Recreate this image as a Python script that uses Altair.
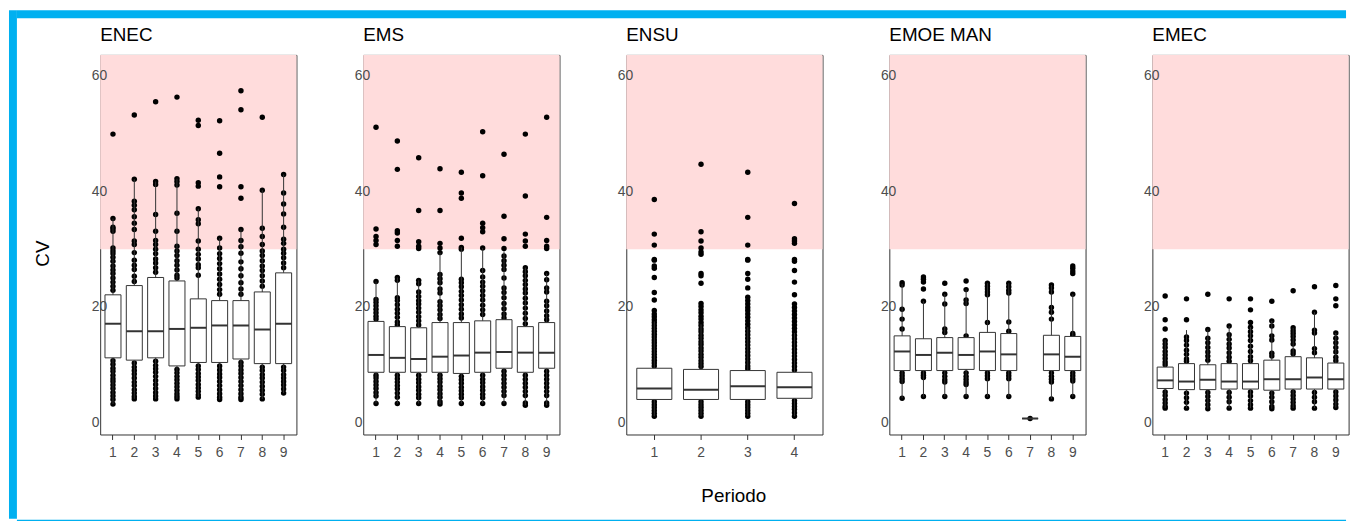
import altair as alt
import pandas as pd

FONT = "Liberation Sans"
BLUE = "#00B0F0"
ZONE_COLOR = "#FFDCDC"
BORDER = "#333333"
LABEL_GRAY = "#4D4D4D"

Y_MIN = -2.06
Y_MAX = 63.6
ZONE_LOW = 30
Y_TICKS = [0, 20, 40, 60]

PERIODS9 = ["1", "2", "3", "4", "5", "6", "7", "8", "9"]
PERIODS4 = ["1", "2", "3", "4"]

# ---------------- ENEC ----------------
ENEC_Q1 = [11.2, 10.8, 11.2, 9.8, 10.4, 10.4, 11.0, 10.2, 10.2]
ENEC_MED = [17.1, 15.8, 15.8, 16.2, 16.4, 16.8, 16.8, 16.1, 17.1]
ENEC_Q3 = [22.1, 23.7, 25.1, 24.5, 21.4, 21.1, 21.1, 22.6, 25.9]
ENEC_LO = [3.2, 4.1, 4.1, 4.1, 4.4, 4.0, 4.0, 4.1, 5.1]
ENEC_HI = [35.3, 42.1, 41.7, 42.2, 37.0, 31.9, 33.4, 40.2, 42.9]
ENEC_PTS = [
    [49.9, 35.3, 33.8, 33.5, 33.1, 30.2, 29.7, 29.2, 28.6, 27.9, 27.1, 26.4, 25.8, 25.0, 24.3, 23.6, 22.9,
     10.7, 10.1, 9.4, 8.9, 8.2, 7.6, 7.1, 6.5, 5.9, 5.2, 4.6, 4.0, 3.2],
    [53.2, 42.1, 38.3, 37.6, 36.8, 35.6, 34.5, 33.4, 31.4, 30.8, 29.4, 28.1, 27.2, 26.5, 25.3, 24.4,
     10.3, 9.6, 9.0, 8.4, 7.7, 7.0, 6.4, 5.7, 5.1, 4.5, 4.1],
    [55.5, 41.7, 41.2, 36.0, 33.1, 31.5, 30.8, 30.0, 29.2, 28.3, 27.6, 26.8, 26.0,
     10.6, 9.9, 9.3, 8.7, 8.0, 7.3, 6.6, 5.9, 5.2, 4.6, 4.1],
    [56.3, 42.2, 41.7, 41.1, 36.2, 33.1, 30.5, 29.7, 28.9, 28.0, 27.2, 26.4, 25.5, 25.0,
     9.2, 8.6, 8.0, 7.4, 6.8, 6.2, 5.6, 5.0, 4.5, 4.1],
    [52.3, 51.4, 41.5, 40.9, 37.0, 35.1, 34.4, 31.4, 30.0, 29.1, 28.3, 27.3, 26.8, 25.5,
     9.8, 9.2, 8.5, 7.9, 7.3, 6.6, 6.0, 5.4, 4.8, 4.4],
    [52.2, 46.6, 42.5, 40.8, 31.9, 30.2, 29.2, 28.4, 27.5, 26.6, 25.7, 24.8, 23.9, 23.0, 22.2,
     9.8, 9.1, 8.4, 7.8, 7.1, 6.4, 5.7, 5.0, 4.4, 4.0],
    [57.4, 54.1, 40.8, 38.8, 33.4, 31.5, 30.4, 29.3, 27.8, 26.6, 25.4, 24.2, 23.1, 22.2,
     10.4, 9.8, 9.1, 8.5, 7.8, 7.1, 6.4, 5.7, 5.0, 4.4, 4.0],
    [52.8, 40.2, 33.6, 32.2, 30.8, 29.7, 28.9, 28.0, 27.1, 26.3, 25.4, 24.5, 23.6,
     9.6, 9.0, 8.3, 7.7, 7.0, 6.3, 5.6, 4.9, 4.1],
    [42.9, 39.7, 37.8, 36.1, 33.8, 31.7, 31.0, 30.0, 29.3, 28.5, 27.6, 26.8,
     9.6, 9.0, 8.3, 7.7, 7.1, 6.5, 5.8, 5.1],
]

# ---------------- EMS ----------------
EMS_Q1 = [8.7, 8.7, 8.7, 8.7, 8.5, 8.7, 9.4, 8.7, 9.4]
EMS_MED = [11.7, 11.2, 11.0, 11.4, 11.6, 12.1, 12.2, 12.1, 12.1]
EMS_Q3 = [17.5, 16.6, 16.4, 17.3, 17.3, 17.6, 17.8, 16.6, 17.3]
EMS_LO = [3.3, 3.3, 3.3, 3.2, 3.3, 3.3, 3.3, 3.0, 3.0]
EMS_HI = [24.4, 25.1, 24.6, 29.4, 30.3, 30.2, 29.6, 26.8, 25.8]
EMS_PTS = [
    [51.1, 33.5, 32.2, 31.5, 30.8, 24.4, 21.3, 20.8, 20.2, 19.6, 19.0, 18.4, 17.9,
     8.2, 7.7, 7.1, 6.5, 5.9, 5.2, 4.6, 3.3],
    [48.7, 43.8, 33.2, 32.8, 31.5, 30.5, 25.1, 24.6, 21.6, 21.1, 20.4, 19.6, 18.9, 18.2, 17.4, 16.9,
     8.2, 7.6, 7.0, 6.4, 5.8, 5.1, 4.4, 3.3],
    [45.8, 36.7, 31.3, 30.5, 30.1, 24.6, 24.0, 22.6, 21.8, 21.1, 20.5, 19.8, 19.1, 18.3, 17.6, 16.9,
     8.2, 7.5, 6.9, 6.2, 5.6, 4.9, 4.3, 3.3],
    [43.9, 36.7, 31.0, 30.2, 29.4, 25.6, 24.9, 24.2, 23.1, 22.4, 20.9, 20.2, 19.5, 18.7, 18.0,
     8.2, 7.6, 7.0, 6.3, 5.7, 5.0, 4.4, 3.6, 3.2],
    [43.3, 39.7, 38.8, 31.9, 30.3, 30.0, 24.8, 24.2, 23.5, 22.7, 22.0, 21.2, 20.4, 19.6, 18.8, 18.1,
     8.0, 7.4, 6.8, 6.1, 5.5, 4.9, 4.3, 3.3],
    [50.3, 42.7, 34.5, 33.7, 33.0, 30.2, 26.3, 25.2, 24.3, 23.6, 22.8, 22.0, 21.2, 20.3, 19.5, 18.7,
     8.2, 7.5, 6.9, 6.2, 5.6, 4.9, 4.3, 3.3],
    [46.4, 35.7, 31.8, 30.1, 28.8, 28.0, 27.2, 26.5, 25.0, 23.3, 22.5, 21.6, 20.6, 19.7, 18.8, 18.1,
     8.9, 8.2, 7.5, 6.8, 6.1, 5.4, 4.7, 3.3],
    [49.9, 39.2, 32.6, 31.4, 30.5, 26.8, 26.1, 25.4, 24.6, 23.9, 23.1, 22.4, 21.5, 20.7, 19.8, 18.9, 18.0, 17.1,
     8.2, 7.5, 6.8, 6.1, 5.4, 4.7, 3.4, 3.0],
    [52.8, 35.5, 31.5, 30.5, 30.1, 25.8, 24.7, 23.3, 22.6, 21.0, 20.2, 19.3, 18.5, 17.8,
     8.9, 8.2, 7.5, 6.8, 6.1, 5.4, 4.7, 3.4, 3.0],
]

# ---------------- ENSU ----------------
ENSU_Q1 = [4.0, 4.0, 4.0, 4.2]
ENSU_MED = [5.9, 5.7, 6.3, 6.1]
ENSU_Q3 = [9.4, 9.2, 9.0, 8.7]
ENSU_LO = [1.1, 1.1, 1.1, 1.1]
ENSU_HI = [17.5, 17.0, 16.5, 15.5]
ENSU_PTS = [
    [38.6, 32.6, 30.7, 28.2, 28.1, 27.1, 26.7, 25.1, 22.5, 21.2, 19.4, 18.8, 18.3, 17.8, 17.3, 16.8, 16.3,
     15.8, 15.3, 14.8, 14.3, 13.8, 13.3, 12.8, 12.3, 11.8, 11.3, 10.8, 10.3, 9.8,
     3.6, 3.1, 2.6, 2.1, 1.6, 1.1],
    [44.7, 33.0, 31.4, 30.2, 29.5, 29.1, 25.8, 25.4, 24.1, 20.6, 20.1, 19.5, 19.0, 18.4, 17.9, 17.3, 16.8,
     16.2, 15.7, 15.1, 14.6, 14.0, 13.5, 12.9, 12.4, 11.8, 11.3, 10.7, 10.2, 9.7,
     3.6, 3.1, 2.6, 2.1, 1.6, 1.1],
    [43.3, 35.5, 30.7, 28.2, 28.1, 25.8, 24.8, 23.3, 21.7, 21.1, 20.5, 19.9, 19.4, 18.8, 18.2, 17.6, 17.0,
     16.4, 15.8, 15.2, 14.6, 14.0, 13.4, 12.8, 12.2, 11.6, 11.0, 10.4, 9.8, 9.3,
     3.6, 3.1, 2.6, 2.1, 1.6, 1.1],
    [37.9, 31.8, 31.4, 31.0, 28.2, 27.9, 26.3, 24.3, 22.1, 20.5, 19.9, 19.3, 18.7, 18.1, 17.5, 16.9, 16.3,
     15.7, 15.1, 14.5, 13.9, 13.3, 12.7, 12.1, 11.5, 10.9, 10.3, 9.7, 9.1,
     3.8, 3.3, 2.8, 2.3, 1.7, 1.1],
]

# ---------------- EMOE MAN ----------------
EMOE_Q1 = [9.0, 9.0, 9.0, 9.2, 9.0, 9.0, 0.7, 9.0, 9.0]
EMOE_MED = [12.3, 11.7, 12.1, 11.7, 12.3, 11.8, 0.7, 11.8, 11.4]
EMOE_Q3 = [15.0, 14.5, 14.7, 14.7, 15.6, 15.4, 0.7, 15.1, 14.9]
EMOE_LO = [4.2, 4.5, 4.5, 4.5, 4.5, 4.5, 0.7, 4.1, 4.5]
EMOE_HI = [24.0, 21.0, 22.2, 23.0, 24.1, 24.1, 0.7, 23.8, 22.2]
EMOE_PTS = [
    [24.2, 23.8, 19.6, 17.9, 16.2, 8.6, 8.1, 7.6, 7.1, 4.2],
    [25.2, 24.8, 24.3, 23.1, 21.0, 8.6, 8.2, 7.8, 4.5],
    [24.1, 22.2, 20.5, 16.2, 15.6, 8.6, 8.0, 7.4, 7.0, 4.5],
    [24.5, 23.0, 21.2, 20.6, 15.0, 8.6, 8.0, 7.5, 7.0, 6.6, 4.5],
    [24.1, 23.6, 23.1, 22.6, 22.1, 17.3, 8.6, 8.1, 7.6, 4.5],
    [24.1, 23.5, 22.9, 22.4, 17.4, 15.8, 8.6, 8.1, 7.6, 4.5],
    [0.7],
    [23.8, 23.3, 22.6, 19.9, 19.1, 17.9, 8.6, 8.0, 7.5, 7.0, 4.1],
    [27.1, 26.7, 26.2, 25.8, 22.2, 15.4, 15.1, 8.6, 8.1, 7.6, 7.2, 4.5],
]

# ---------------- EMEC ----------------
EMEC_Q1 = [5.9, 5.7, 5.7, 5.8, 5.8, 5.6, 5.8, 5.8, 5.8]
EMEC_MED = [7.3, 7.1, 7.4, 7.1, 7.1, 7.5, 7.5, 7.8, 7.5]
EMEC_Q3 = [9.6, 10.2, 10.0, 10.2, 10.2, 10.8, 11.4, 11.2, 10.3]
EMEC_LO = [2.5, 2.5, 2.4, 2.5, 2.5, 2.4, 2.5, 2.5, 2.6]
EMEC_HI = [14.3, 16.0, 16.1, 16.7, 16.5, 17.6, 16.4, 19.1, 15.5]
EMEC_PTS = [
    [21.9, 17.8, 16.2, 14.2, 13.6, 13.0, 12.3, 11.7, 11.1, 10.5, 10.0, 5.3, 4.7, 4.0, 3.4, 2.8, 2.5],
    [21.4, 17.8, 14.8, 14.2, 13.4, 12.5, 11.8, 11.0, 10.6, 5.1, 4.3, 3.5, 2.5],
    [22.2, 16.1, 14.6, 13.8, 13.0, 12.2, 11.5, 10.8, 5.2, 4.5, 3.8, 3.1, 2.4],
    [21.4, 16.7, 15.2, 14.4, 13.6, 12.9, 12.1, 11.3, 10.6, 5.2, 4.4, 3.6, 2.5],
    [21.4, 19.5, 17.3, 16.5, 15.7, 15.0, 14.2, 13.2, 12.3, 11.4, 10.7, 5.3, 4.6, 3.8, 3.1, 2.5],
    [21.0, 17.6, 16.7, 15.0, 14.3, 12.0, 11.5, 5.1, 4.4, 3.6, 2.8, 2.4],
    [22.8, 16.4, 15.9, 15.4, 14.9, 14.3, 13.6, 12.4, 11.9, 5.3, 4.7, 4.1, 3.5, 2.9, 2.5],
    [23.5, 19.1, 16.0, 15.5, 12.8, 12.1, 5.2, 4.4, 3.6, 2.5],
    [23.7, 21.4, 20.2, 15.5, 14.6, 13.8, 13.0, 12.2, 11.3, 10.7, 5.3, 4.6, 3.9, 3.2, 2.6],
]

PANELS = [
    ("ENEC", PERIODS9, ENEC_Q1, ENEC_MED, ENEC_Q3, ENEC_LO, ENEC_HI, ENEC_PTS),
    ("EMS", PERIODS9, EMS_Q1, EMS_MED, EMS_Q3, EMS_LO, EMS_HI, EMS_PTS),
    ("ENSU", PERIODS4, ENSU_Q1, ENSU_MED, ENSU_Q3, ENSU_LO, ENSU_HI, ENSU_PTS),
    ("EMOE MAN", PERIODS9, EMOE_Q1, EMOE_MED, EMOE_Q3, EMOE_LO, EMOE_HI, EMOE_PTS),
    ("EMEC", PERIODS9, EMEC_Q1, EMEC_MED, EMEC_Q3, EMEC_LO, EMEC_HI, EMEC_PTS),
]

PANEL_W = 198
PANEL_H = 383
PAD_INNER = 0.25
PAD_OUTER = 0.225


def make_panel(idx, name, periods, q1, med, q3, lo, hi, pts):
    n = len(periods)
    step = PANEL_W / (n - PAD_INNER + 2 * PAD_OUTER)
    bw = step * (1 - PAD_INNER)

    stats = pd.DataFrame({"Periodo": periods, "q1": q1, "med": med, "q3": q3, "lo": lo, "hi": hi})
    rows = [(p, v) for p, vals in zip(periods, pts) for v in vals]
    pts_df = pd.DataFrame(rows, columns=["Periodo", "CV"])
    zone = pd.DataFrame({"y": [ZONE_LOW], "y2": [Y_MAX]})

    xscale = alt.Scale(type="band", domain=periods, paddingInner=PAD_INNER, paddingOuter=PAD_OUTER)
    yscale = alt.Scale(domain=[Y_MIN, Y_MAX], nice=False, zero=False)

    x_kwargs = dict(labelAngle=0, labelFont=FONT, labelFontSize=14, labelColor=LABEL_GRAY,
                    labelPadding=6, tickSize=5, tickColor=BORDER, tickWidth=1, domain=False,
                    grid=False)
    if idx == 2:
        xaxis = alt.Axis(title="Periodo", titleFont=FONT, titleFontSize=19, titleColor="black",
                         titleFontWeight="normal", titlePadding=28, titleX=108, **x_kwargs)
    else:
        xaxis = alt.Axis(title=None, **x_kwargs)

    y_kwargs = dict(values=Y_TICKS, labelAlign="left", labelBaseline="middle", labelPadding=9,
                    labelFont=FONT, labelFontSize=14, labelColor=LABEL_GRAY, ticks=False,
                    tickSize=0, domain=False, grid=False, zindex=1)
    if idx == 0:
        yaxis = alt.Axis(title="CV", titleFont=FONT, titleFontSize=19, titleColor="black",
                         titleFontWeight="normal", titlePadding=39, titleY=200, **y_kwargs)
    else:
        yaxis = alt.Axis(title=None, **y_kwargs)

    zone_layer = alt.Chart(zone).mark_rect(color=ZONE_COLOR).encode(
        y=alt.Y("y:Q", scale=yscale, axis=yaxis),
        y2="y2:Q",
        x=alt.value(0),
        x2=alt.value(PANEL_W),
    )
    pts_layer = alt.Chart(pts_df).mark_circle(size=30, color="black", opacity=1).encode(
        x=alt.X("Periodo:N", scale=xscale, axis=xaxis, sort=periods),
        y=alt.Y("CV:Q", scale=yscale),
    )
    whisk = alt.Chart(stats).mark_rule(color=BORDER, strokeWidth=1).encode(
        x=alt.X("Periodo:N", scale=xscale, sort=periods),
        y=alt.Y("lo:Q", scale=yscale),
        y2="hi:Q",
    )
    box = alt.Chart(stats).mark_bar(fill="white", stroke=BORDER, strokeWidth=1, opacity=1).encode(
        x=alt.X("Periodo:N", scale=xscale, sort=periods),
        y=alt.Y("q1:Q", scale=yscale),
        y2="q3:Q",
    )
    median = alt.Chart(stats).mark_tick(color=BORDER, thickness=2, size=bw, opacity=1).encode(
        x=alt.X("Periodo:N", scale=xscale, sort=periods),
        y=alt.Y("med:Q", scale=yscale),
    )
    return alt.layer(zone_layer, pts_layer, whisk, box, median).properties(
        width=PANEL_W,
        height=PANEL_H,
        title=alt.TitleParams(name, anchor="start", frame="group", font=FONT, fontSize=19,
                              fontWeight="normal", color="black", offset=10),
        view=alt.ViewBackground(stroke=BORDER, strokeWidth=1),
    )


def block(w, h, color):
    return alt.Chart(pd.DataFrame({"v": [0]})).mark_point(opacity=0, size=1).encode(
        x=alt.value(w / 2), y=alt.value(h / 2)
    ).properties(width=w, height=h,
                 view=alt.ViewBackground(fill=color, stroke=color, strokeWidth=0))


panels = [make_panel(i, *p) for i, p in enumerate(PANELS)]
panels_row = alt.hconcat(*panels, spacing=56.4)
inner = alt.hconcat(block(1, 1, "transparent"), panels_row, spacing=15)
upper = alt.vconcat(block(1341, 8, BLUE), inner, spacing=7)
right = alt.vconcat(upper, block(1341, 4, BLUE), spacing=13)
chart = alt.hconcat(block(8, 513, BLUE), right, spacing=0).properties(
    padding={"left": 1, "top": 0, "right": 0, "bottom": 0},
    background="white",
)

chart.save("out.html", embed_options={"renderer": "svg", "actions": False})
